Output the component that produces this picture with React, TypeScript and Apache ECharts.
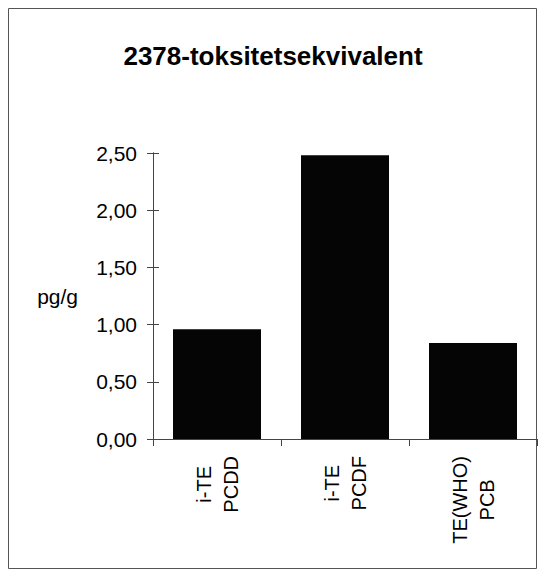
import React, { useEffect, useRef } from "react";
import * as echarts from "echarts";

const titleText = "2378-toksitetsekvivalent";
const unitLabel = "pg/g";
const categories = ["i-TE\nPCDD", "i-TE\nPCDF", "TE(WHO)\nPCB"];
const values = [0.96, 2.48, 0.84];
const yMin = 0;
const yMax = 2.5;
const yInterval = 0.5;

const FONT = "'Liberation Sans', Arial, Helvetica, sans-serif";

export default function App() {
  const ref = useRef<HTMLDivElement>(null);
  useEffect(() => {
    if (!ref.current) return;
    const chart = echarts.init(ref.current, undefined, { renderer: "svg" });
    const fmt = (v: number) => v.toFixed(2).replace(".", ",");
    const gridBox = { left: 145, top: 145, width: 384, height: 286, containLabel: false };
    chart.setOption({
      animation: false,
      backgroundColor: "#ffffff",
      title: {
        text: titleText,
        left: "center",
        top: 30,
        textStyle: { fontFamily: FONT, fontSize: 26, fontWeight: "bold", color: "#000" },
      },
      graphic: [
        {
          type: "rect",
          shape: { x: 0.5, y: 0.5, width: 528, height: 560 },
          style: { fill: "none", stroke: "#555", lineWidth: 1 },
          silent: true,
        },
      ],
      grid: [gridBox, { ...gridBox }],
      xAxis: [
        {
          type: "category",
          gridIndex: 0,
          data: categories,
          axisLine: { show: true, lineStyle: { color: "#444", width: 1 } },
          axisTick: { show: true, length: 7, lineStyle: { color: "#444" } },
          axisLabel: {
            rotate: 90,
            margin: 17,
            color: "#000",
            fontFamily: FONT,
            fontSize: 20,
            lineHeight: 27,
            formatter: (v: string) => v.split("\n").map((s) => `{c|${s}}`).join("\n"),
            rich: {
              c: { align: "center", fontFamily: FONT, fontSize: 20, lineHeight: 27, color: "#000" },
            },
          },
          splitLine: { show: false },
        },
        {
          type: "category",
          gridIndex: 1,
          data: categories,
          axisLine: { show: false },
          axisTick: { show: false },
          axisLabel: { show: false },
          splitLine: { show: false },
        },
      ],
      yAxis: [
        {
          type: "value",
          gridIndex: 0,
          position: "left",
          min: yMin,
          max: yMax,
          interval: yInterval,
          name: unitLabel,
          nameLocation: "middle",
          nameRotate: 0,
          nameGap: 75,
          nameTextStyle: { fontFamily: FONT, fontSize: 21, color: "#000", align: "right" },
          axisLine: { show: true, lineStyle: { color: "#444", width: 1 } },
          axisTick: { show: true, length: 6, lineStyle: { color: "#444" } },
          axisLabel: { margin: 16, color: "#000", fontFamily: FONT, fontSize: 21, formatter: fmt },
          splitLine: { show: false },
        },
        {
          type: "value",
          gridIndex: 1,
          position: "left",
          min: yMin,
          max: yMax,
          interval: yInterval,
          axisLine: { show: true, onZero: false, lineStyle: { color: "#444", width: 1 } },
          axisTick: { show: true, inside: true, length: 6, lineStyle: { color: "#444", width: 1 } },
          axisLabel: { show: false },
          splitLine: { show: false },
        },
      ],
      series: [
        {
          type: "bar",
          data: values,
          xAxisIndex: 0,
          yAxisIndex: 0,
          barWidth: 88,
          itemStyle: { color: "#050505" },
          z: 3,
        },
        {
          type: "bar",
          data: values,
          xAxisIndex: 1,
          yAxisIndex: 1,
          barWidth: 88,
          silent: true,
          itemStyle: { color: "rgba(0,0,0,0)" },
          z: 1,
        },
      ],
    });
    return () => chart.dispose();
  }, []);
  return <div ref={ref} style={{ width: 530, height: 561 }} />;
}
